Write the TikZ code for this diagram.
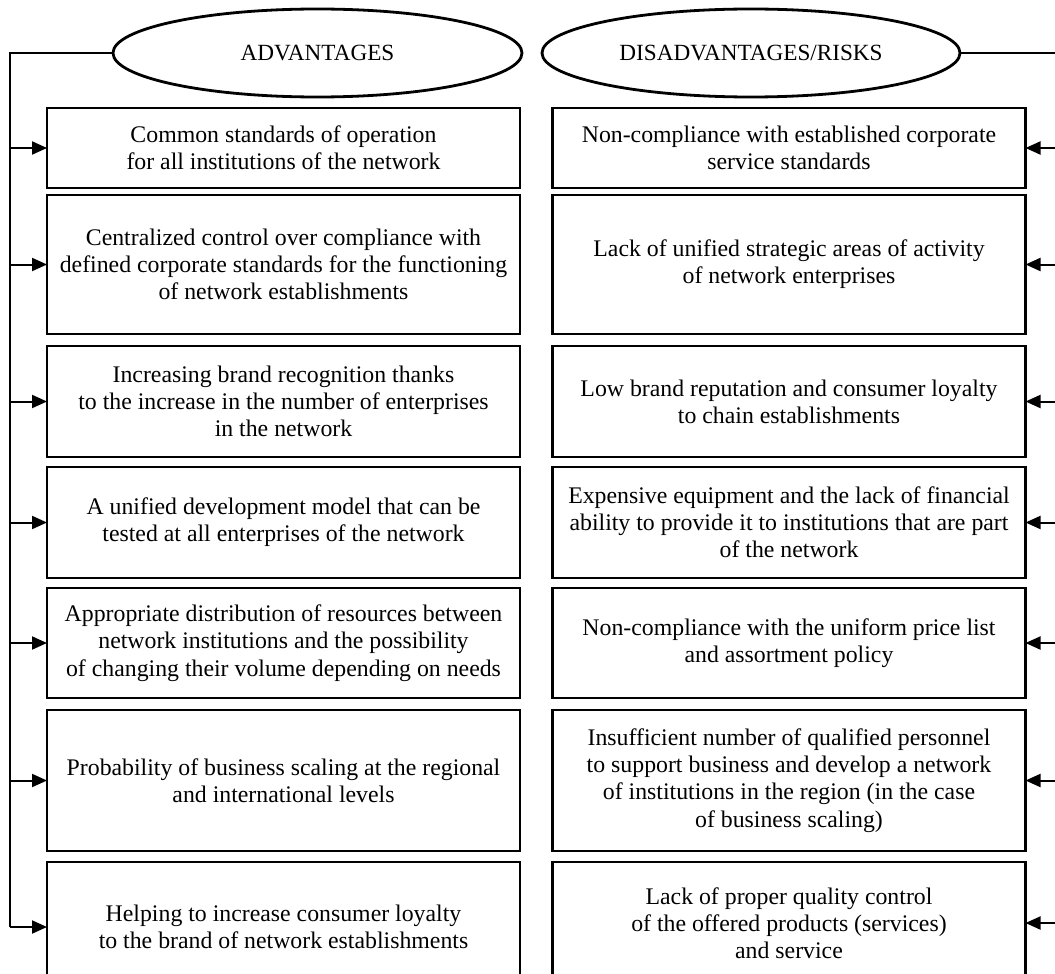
\documentclass[tikz,border=0pt]{standalone}
\usepackage{fontspec}
\setmainfont{Liberation Serif}
\usetikzlibrary{shapes.geometric,arrows.meta}
\newcommand{\advbox}[4] {
    \node[item,minimum height={(#3-#2)*0.5pt}] (#1) at (283.5, {(#2+#3)/2}) {#4};
}
\newcommand{\riskbox}[4] {
    \node[item,minimum height={(#3-#2)*0.5pt}] (#1) at (789, {(#2+#3)/2}) {#4};
}

\begin{document}
\begin{tikzpicture}[x=0.5pt,y=-0.5pt]
    \tikzset{
        item/.style={
            rectangle,
            draw,
            line width=1.4pt,
            minimum width=236.5pt,
            inner sep=0mm,
            outer sep=0mm,
            align=center,
            font=\fontsize{11.9}{13.6}\selectfont
        },
        head/.style={
            ellipse,
            draw,
            line width=1.4pt,
            minimum height=44pt,
            inner sep=0mm,
            font=\fontsize{11.6}{13}\selectfont
        },
        link/.style={line width=1pt},
        feed/.style={line width=1pt,-{Triangle[length=7.5pt,width=6.5pt]}}
    }
    \useasboundingbox (0,0) rectangle (1055,974);
    \clip (0,0) rectangle (1055,974);
    \node[head,minimum width=204.5pt] (adv) at (317.5,53) {ADVANTAGES};
    \node[head,minimum width=209pt] (risk) at (751,53) {DISADVANTAGES/RISKS};
    \coordinate (lspine) at (10,53);
    \coordinate (rspine) at (1062,53);
    % advantages
    \advbox{a1}{108}{188}{Common standards of operation\\for all institutions of the network}
    \advbox{a2}{195}{334}{Centralized control over compliance with\\defined corporate standards for the functioning\\of network establishments}
    \advbox{a3}{346}{457}{Increasing brand recognition thanks\\to the increase in the number of enterprises\\in the network}
    \advbox{a4}{467}{578}{A unified development model that can be\\tested at all enterprises of the network}
    \advbox{a5}{588}{698}{Appropriate distribution of resources between\\network institutions and the possibility\\of changing their volume depending on needs}
    \advbox{a6}{710}{851}{Probability of business scaling at the regional\\and international levels}
    \advbox{a7}{862}{992}{Helping to increase consumer loyalty\\to the brand of network establishments}
    % disadvantages
    \riskbox{d1}{108}{188}{Non-compliance with established corporate\\service standards}
    \riskbox{d2}{195}{334}{Lack of unified strategic areas of activity\\of network enterprises}
    \riskbox{d3}{346}{457}{Low brand reputation and consumer loyalty\\to chain establishments}
    \riskbox{d4}{467}{578}{Expensive equipment and the lack of financial\\ability to provide it to institutions that are part\\of the network}
    \riskbox{d5}{588}{698}{Non-compliance with the uniform price list\\and assortment policy}
    \riskbox{d6}{710}{851}{Insufficient number of qualified personnel\\to support business and develop a network\\of institutions in the region (in the case\\of business scaling)}
    \riskbox{d7}{862}{984}{Lack of proper quality control\\of the offered products (services)\\and service}
    % spines
    \draw[link] (adv.west) -- (lspine) -- (lspine |- a7.west);
    \draw[link] (risk.east) -- (rspine) -- (rspine |- d7.east);
    \foreach \i in {1,...,7} {
        \draw[feed] (lspine |- a\i.west) -- (a\i.west);
        \draw[feed] (rspine |- d\i.east) -- (d\i.east);
    }
\end{tikzpicture}
\end{document}
